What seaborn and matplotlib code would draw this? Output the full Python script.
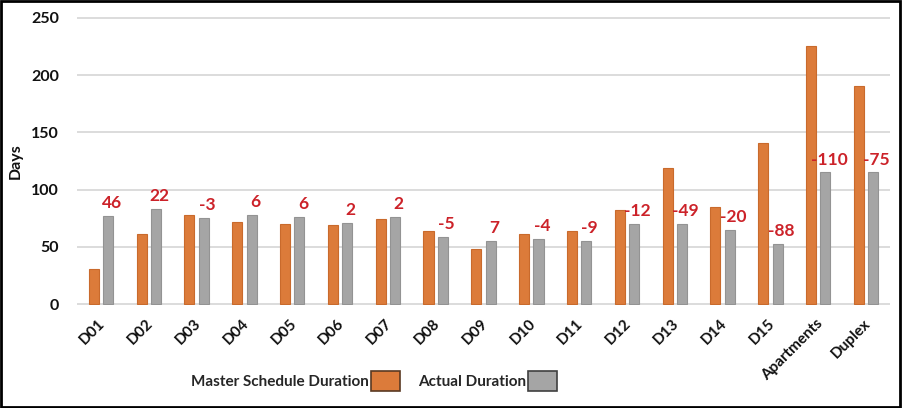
import matplotlib
matplotlib.use("Agg")
import matplotlib.pyplot as plt
import matplotlib.transforms as mtransforms
from matplotlib.patches import Patch, Rectangle
import seaborn as sns
import pandas as pd

# ---- data ----
categories = ["D01", "D02", "D03", "D04", "D05", "D06", "D07", "D08", "D09",
              "D10", "D11", "D12", "D13", "D14", "D15", "Apartments", "Duplex"]
master_duration = [31, 61, 78, 72, 70, 69, 74, 64, 48, 61, 64, 82, 119, 85, 141, 225, 190]
actual_duration = [77, 83, 75, 78, 76, 71, 76, 59, 55, 57, 55, 70, 70, 65, 53, 115, 115]
diff_labels = ["46", "22", "-3", "6", "6", "2", "2", "-5", "7", "-4", "-9",
               "-12", "-49", "-20", "-88", "-110", "-75"]
series_names = ["Master Schedule Duration", "Actual Duration"]
y_ticks = [0, 50, 100, 150, 200, 250]

colors = ["#DC7B3A", "#A5A5A5"]
edges = ["#C96A2C", "#939393"]

df = pd.DataFrame({
    "Category": categories * 2,
    "Days": master_duration + actual_duration,
    "Series": [series_names[0]] * len(categories) + [series_names[1]] * len(categories),
})

sns.set_theme(style="white")
plt.rcParams["font.family"] = ["Lato", "DejaVu Sans"]
plt.rcParams["font.weight"] = "bold"

fig = plt.figure(figsize=(9.02, 4.08), dpi=100)
ax = fig.add_axes([77 / 902, 1 - 305 / 408, (890 - 77) / 902, (305 - 17) / 408])

sns.barplot(data=df, x="Category", y="Days", hue="Series", order=categories,
            hue_order=series_names, palette=colors, width=0.6, gap=0.3,
            ax=ax, legend=False, linewidth=0.8, saturation=1)

for cont, ec in zip(ax.containers, edges):
    for rect in cont:
        rect.set_edgecolor(ec)

ax.set_xlim(-0.5, len(categories) - 0.5)
ax.set_ylim(-0.6, 250.6)
ax.set_yticks(y_ticks)
ax.set_yticklabels([str(t) for t in y_ticks], fontsize=11.5, fontweight="bold", color="#111111")
ax.grid(axis="y", color="#D9D9D9", linewidth=1.3)
ax.grid(axis="x", visible=False)
ax.set_axisbelow(True)
for s in ax.spines.values():
    s.set_visible(False)
ax.tick_params(axis="y", length=0, pad=13)
ax.tick_params(axis="x", length=0, pad=12)
ax.set_ylabel("Days", fontsize=11.5, fontweight="bold", color="#111111", labelpad=6)
ax.set_xlabel("")

ax.set_xticks(range(len(categories)))
ax.set_xticklabels(categories, rotation=45, ha="right", va="center",
                   rotation_mode="anchor", fontsize=11, fontweight="bold", color="#111111")
offset = mtransforms.ScaledTranslation(2 / 100, 0, fig.dpi_scale_trans)
for lab in ax.get_xticklabels():
    lab.set_transform(lab.get_transform() + offset)

# difference labels above the actual-duration bars
for rect, txt in zip(ax.containers[1], diff_labels):
    x = rect.get_x() + rect.get_width() / 2
    y = rect.get_height()
    ax.annotate(txt, (x, y), xytext=(2.5, 3.5), textcoords="offset points",
                ha="center", va="bottom", fontsize=12.5, fontweight="bold",
                color="#CC2229")

handles = [Patch(facecolor=colors[0], edgecolor="#5A3A22", linewidth=1.2),
           Patch(facecolor=colors[1], edgecolor="#404040", linewidth=1.2)]
fig.legend(handles, series_names, loc="center", bbox_to_anchor=(374 / 902, 1 - 381 / 408),
           ncol=2, frameon=False, markerfirst=False, handlelength=1.9, handleheight=1.65,
           handletextpad=0.1, columnspacing=1.2,
           prop={"size": 11, "weight": "bold"})

fig.patches.append(Rectangle((0.001, 0.003), 0.997, 0.994, transform=fig.transFigure,
                             fill=False, edgecolor="black", linewidth=2, zorder=10))

fig.savefig("out.png", dpi=100)
